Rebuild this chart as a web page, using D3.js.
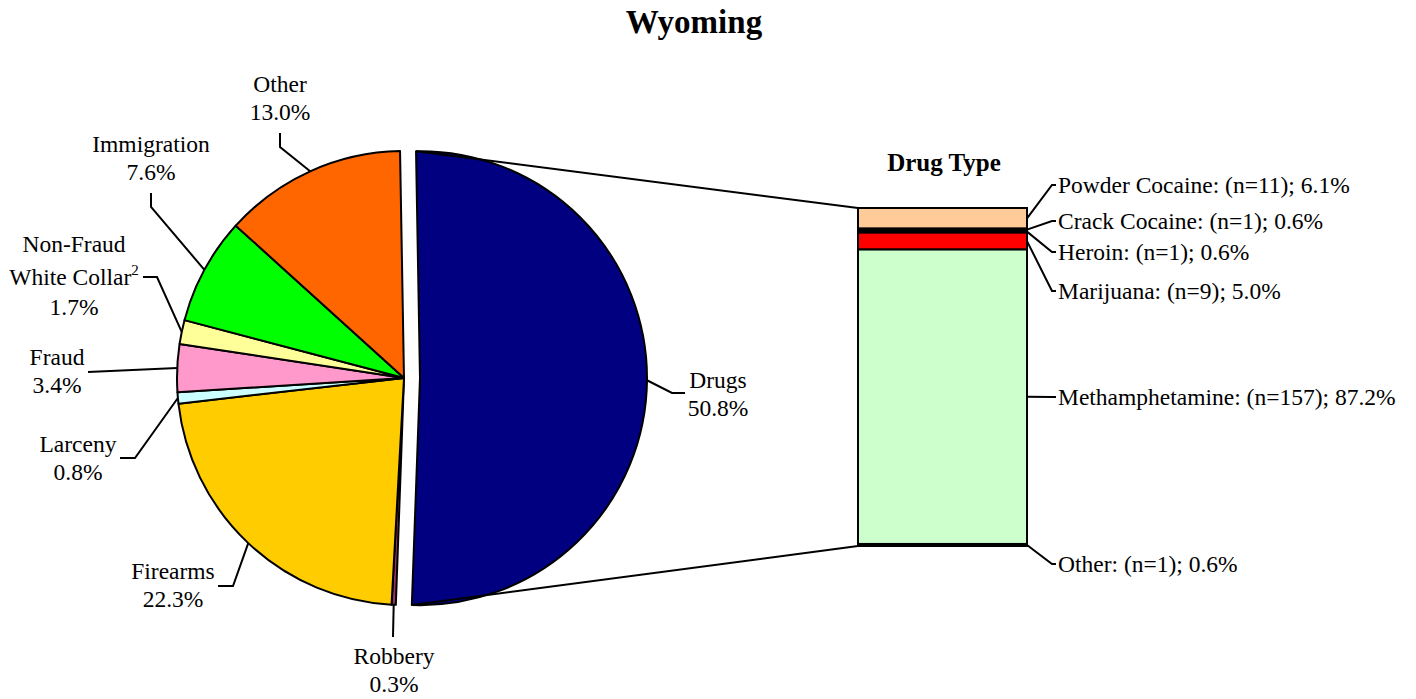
<!DOCTYPE html>
<html>
<head>
<meta charset="utf-8">
<script src="https://cdn.jsdelivr.net/npm/d3@7"></script>
<style>
	body { margin: 0; background: #fff; }
	svg text { font-family: "Liberation Serif", "Times New Roman", serif; fill: #000; }
</style>
</head>
<body>
<svg id="chart" width="1416" height="699"></svg>
<script>
'use strict';

// offence categories (main pie), clockwise from the top
const categories = ["Drugs", "Robbery", "Firearms", "Larceny", "Fraud", "Non-Fraud White Collar", "Immigration", "Other"];
const percents = [50.8, 0.3, 22.3, 0.8, 3.4, 1.7, 7.6, 13.0];
const sliceColors = ["#000080", "#993366", "#FFCC00", "#CCFFFF", "#FF99CC", "#FFFF99", "#00FF00", "#FF6600"];

// drug type breakdown (stacked bar), top to bottom
const drugTypes = ["Powder Cocaine", "Crack Cocaine", "Heroin", "Marijuana", "Methamphetamine", "Other"];
const drugCounts = [11, 1, 1, 9, 157, 1];
const drugPercents = [6.1, 0.6, 0.6, 5.0, 87.2, 0.6];
const drugColors = ["#FFCC99", "#000000", "#000000", "#FF0000", "#CCFFCC", "#000000"];

// label layout for the pie (text centre x, first baseline, leader bend points)
const pieLabels = [
	{x: 718, y: 388, pts: [[672, 393], [685, 393]]},
	{x: 394, y: 664, pts: [[393, 637]]},
	{x: 173, y: 579, pts: [[233, 586], [218, 586]]},
	{x: 78, y: 452, pts: [[135, 458], [120, 458]]},
	{x: 57, y: 365, pts: [[88, 372]]},
	{x: 74, y: 252, pts: [[157, 277], [143, 277]]},
	{x: 151, y: 152, pts: [[151, 207], [151, 193]]},
	{x: 280, y: 92, pts: [[280, 147], [280, 133]]}
];
const barLabelY = [185, 221, 252, 291, 397, 564];

const svg = d3.select("#chart");
const fontSize = 23.5;
const lineGap = 28;

svg.append("text")
	.attr("x", 694).attr("y", 33)
	.attr("text-anchor", "middle")
	.style("font-size", "33px").style("font-weight", "bold")
	.text("Wyoming");

// ---- pie ----
const cx = 404, cy = 378, radius = 227;
const rot = -1 * Math.PI / 180;
const pie = d3.pie().sort(null).startAngle(rot).endAngle(rot + 2 * Math.PI);
const arcs = pie(percents);
const arc = d3.arc().innerRadius(0).outerRadius(radius);
const explode = 16;

function sliceOffset(d, i) {
	if (i !== 0) return [0, 0];
	const mid = (d.startAngle + d.endAngle) / 2;
	return [explode * Math.sin(mid), -explode * Math.cos(mid)];
}

const pieG = svg.append("g").attr("transform", `translate(${cx},${cy})`);

pieG.selectAll("path")
	.data(arcs)
	.enter().append("path")
	.attr("transform", (d, i) => `translate(${sliceOffset(d, i)})`)
	.attr("d", arc)
	.attr("fill", (d, i) => sliceColors[i])
	.attr("stroke", "#000")
	.attr("stroke-width", 2)
	.attr("stroke-linejoin", "round");

// leader lines from slice edge to label
pieG.selectAll("polyline.leader")
	.data(arcs)
	.enter().append("polyline")
	.attr("class", "leader")
	.attr("fill", "none")
	.attr("stroke", "#000")
	.attr("stroke-width", 2)
	.attr("points", (d, i) => {
		const mid = (d.startAngle + d.endAngle) / 2;
		const off = sliceOffset(d, i);
		const start = [radius * Math.sin(mid) + off[0], -radius * Math.cos(mid) + off[1]];
		const rest = pieLabels[i].pts.map(p => [p[0] - cx, p[1] - cy]);
		return [start].concat(rest).map(p => p.join(",")).join(" ");
	});

const labelG = svg.append("g").style("font-size", fontSize + "px");
categories.forEach((c, i) => {
	const L = pieLabels[i];
	const t = labelG.append("text").attr("text-anchor", "middle");
	if (c === "Non-Fraud White Collar") {
		t.append("tspan").attr("x", L.x).attr("y", L.y).text("Non-Fraud");
		t.append("tspan").attr("x", L.x).attr("y", L.y + 33).text("White Collar");
		t.append("tspan").style("font-size", "15px").attr("dy", -10).text("2");
		t.append("tspan").attr("x", L.x).attr("y", L.y + 63).text(percents[i].toFixed(1) + "%");
	} else {
		t.append("tspan").attr("x", L.x).attr("y", L.y).text(c);
		t.append("tspan").attr("x", L.x).attr("y", L.y + lineGap).text(percents[i].toFixed(1) + "%");
	}
});

// ---- stacked bar ----
const barX0 = 858, barX1 = 1027;
const total = d3.sum(drugPercents);
const y = d3.scaleLinear().domain([0, total]).range([208, 546]);
const cum = d3.cumsum(drugPercents);
const segs = drugPercents.map((v, i) => ({name: drugTypes[i], n: drugCounts[i], v: v, y0: cum[i] - v, y1: cum[i]}));

// connector lines from exploded slice to bar
const drug = arcs[0];
const dOff = sliceOffset(drug, 0);
const topPt = [cx + radius * Math.sin(drug.startAngle) + dOff[0], cy - radius * Math.cos(drug.startAngle) + dOff[1]];
const botPt = [cx + radius * Math.sin(drug.endAngle) + dOff[0], cy - radius * Math.cos(drug.endAngle) + dOff[1]];
svg.append("line")
	.attr("x1", topPt[0]).attr("y1", topPt[1])
	.attr("x2", barX0).attr("y2", y(0))
	.attr("stroke", "#000").attr("stroke-width", 2);
svg.append("line")
	.attr("x1", botPt[0]).attr("y1", botPt[1])
	.attr("x2", barX0).attr("y2", y(total))
	.attr("stroke", "#000").attr("stroke-width", 2);

svg.append("g").selectAll("rect")
	.data(segs)
	.enter().append("rect")
	.attr("x", barX0)
	.attr("y", d => y(d.y0))
	.attr("width", barX1 - barX0)
	.attr("height", d => y(d.y1) - y(d.y0))
	.attr("fill", (d, i) => drugColors[i])
	.attr("stroke", "#000")
	.attr("stroke-width", 2);

svg.append("text")
	.attr("x", 944).attr("y", 171)
	.attr("text-anchor", "middle")
	.style("font-size", "25px").style("font-weight", "bold")
	.text("Drug Type");

svg.append("g").selectAll("polyline")
	.data(segs)
	.enter().append("polyline")
	.attr("fill", "none")
	.attr("stroke", "#000")
	.attr("stroke-width", 2)
	.attr("points", (d, i) => {
		const ym = (y(d.y0) + y(d.y1)) / 2;
		return [[barX1, ym], [1052, barLabelY[i]], [1056, barLabelY[i]]].map(p => p.join(",")).join(" ");
	});

svg.append("g").style("font-size", fontSize + "px")
	.selectAll("text")
	.data(segs)
	.enter().append("text")
	.attr("x", 1058)
	.attr("y", (d, i) => barLabelY[i])
	.attr("dy", "0.33em")
	.text(d => `${d.name}: (n=${d.n}); ${d.v.toFixed(1)}%`);
</script>
</body>
</html>
